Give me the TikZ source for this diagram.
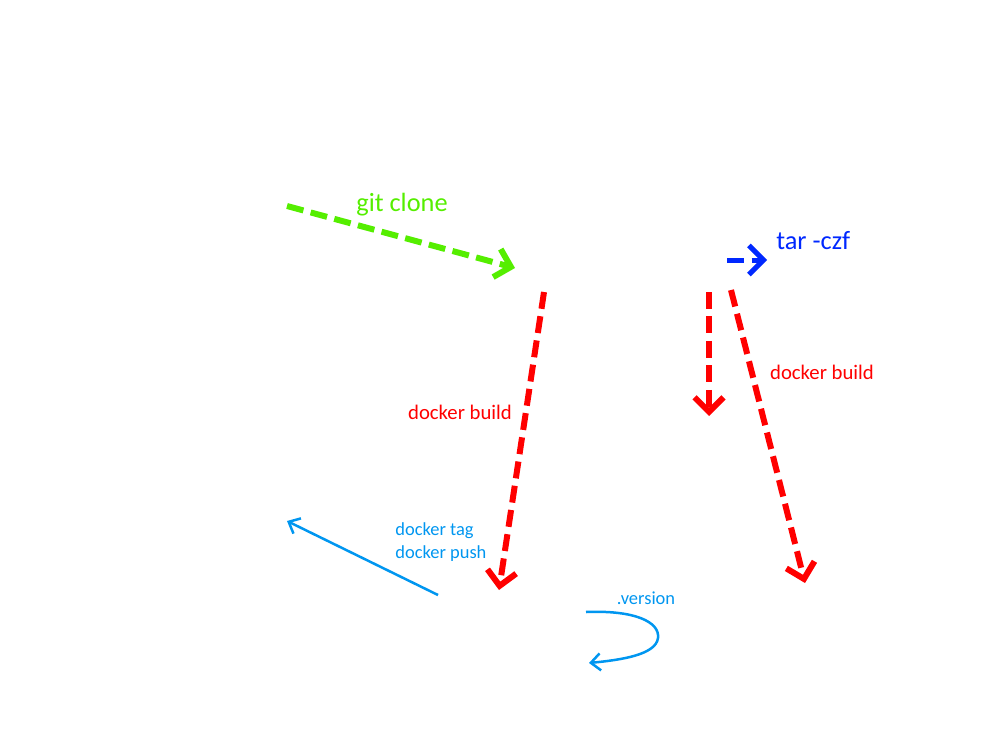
\documentclass[tikz,border=0pt]{standalone}
\usepackage{fontspec}
\setmainfont{Carlito}
\usetikzlibrary{arrows.meta}

\definecolor{clonegreen}{RGB}{85,238,0}
\definecolor{tarblue}{RGB}{0,40,255}
\definecolor{pushblue}{RGB}{0,150,240}

\begin{document}
\begin{tikzpicture}[
    x=0.02cm, y=-0.02cm,
    big/.style={inner sep=0pt, font=\fontsize{15}{18}\selectfont},
    mid/.style={inner sep=0pt, font=\fontsize{11.8}{14}\selectfont},
    small/.style={inner sep=0pt, align=left, font=\fontsize{10.5}{13}\selectfont},
    dasharrow/.style={line width=1.2mm, dash pattern=on 3.4mm off 1.5mm, -{Straight Barb[length=2.9mm, width=5.8mm]}},
    thinarrow/.style={line width=0.5mm, pushblue, -{Straight Barb[length=1.9mm, width=3.4mm]}}
  ]
    \useasboundingbox (0,0) rectangle (1000,750);

    \coordinate (clone-s) at (287,206);
    \coordinate (clone-e) at (515,268);
    \coordinate (tar-s) at (727,260);
    \coordinate (tar-e) at (767,260);
    \coordinate (build1-s) at (544,292);
    \coordinate (build1-e) at (499,590);
    \coordinate (mid-s) at (709,292);
    \coordinate (mid-e) at (709,416);
    \coordinate (build2-s) at (731,290);
    \coordinate (build2-e) at (805,583);
    \coordinate (push-s) at (438,595);
    \coordinate (push-e) at (287,521);
    \coordinate (ver-s) at (586,612);
    \coordinate (ver-e) at (589,663);

    \node[big, clonegreen] (gitclone) at (402,205) {git clone};
    \node[big, tarblue, anchor=west] (tarczf) at (776,241) {tar -czf};
    \node[mid, red] (build1) at (460,412) {docker build};
    \node[mid, red] (build2) at (822,372) {docker build};
    \node[small, pushblue, anchor=west] (tagpush) at (395,542) {docker tag\\docker push};
    \node[small, pushblue] (version) at (646,598) {.version};

    \draw[dasharrow, clonegreen] (clone-s) -- (clone-e);
    \draw[dasharrow, tarblue, line width=1mm] (tar-s) -- (tar-e);
    \draw[dasharrow, red] (build1-s) -- (build1-e);
    \draw[dasharrow, red] (mid-s) -- (mid-e);
    \draw[dasharrow, red] (build2-s) -- (build2-e);
    \draw[thinarrow] (push-s) -- (push-e);
    \draw[thinarrow] (ver-s) .. controls (635,610) and (660,622) .. (658,638)
      .. controls (656,655) and (620,660) .. (ver-e);
\end{tikzpicture}
\end{document}
